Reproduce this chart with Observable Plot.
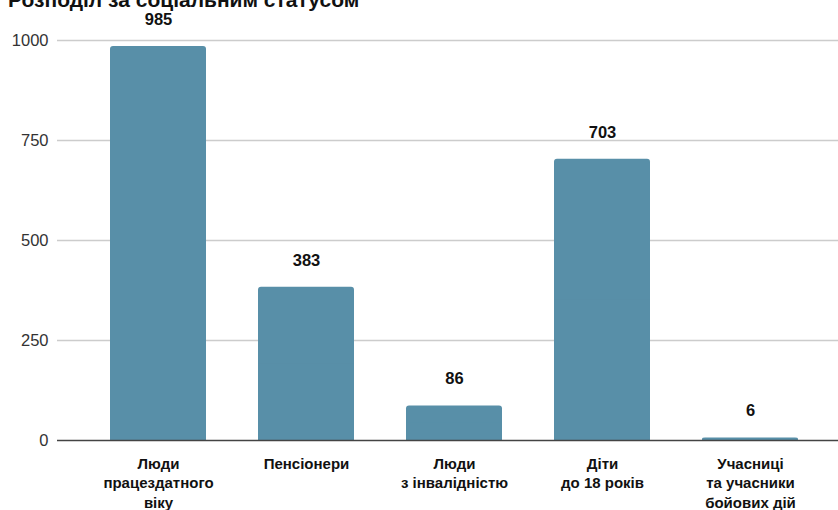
<!DOCTYPE html>
<html>
<head>
<meta charset="utf-8">
<script src="https://cdn.jsdelivr.net/npm/d3@7"></script>
<script src="https://cdn.jsdelivr.net/npm/@observablehq/plot@0.6"></script>
<style>
  html, body { margin: 0; padding: 0; background: #fff; overflow: hidden; }
  #wrap { position: relative; width: 838px; height: 510px; }
  #title { position: absolute; left: 8px; top: -12px; font: bold 21px "Liberation Sans", Arial, sans-serif; color: #111; white-space: nowrap; }
</style>
</head>
<body>
<div id="wrap">
  <div id="chart"></div>
  <div id="title">Розподіл за соціальним статусом</div>
</div>
<script>
const categories = ["Люди\nпрацездатного\nвіку", "Пенсіонери", "Люди\nз інвалідністю", "Діти\nдо 18 років", "Учасниці\nта учасники\nбойових дій"];
const values = [985, 383, 86, 703, 6];
const yTicks = [0, 250, 500, 750, 1000];

const data = categories.map((c, i) => ({cat: c, value: values[i]}));
const color = "#588fa8";
const font = "'Liberation Sans', Arial, sans-serif";

const chart = Plot.plot({
  width: 838,
  height: 510,
  marginLeft: 57,
  marginRight: 0,
  marginTop: 40,
  marginBottom: 70,
  style: {fontFamily: font, background: "#fff", overflow: "visible"},
  x: {domain: categories, range: [84, 824], paddingInner: 0.351, paddingOuter: 0.1755, label: null},
  y: {domain: [0, 1000], label: null, ticks: yTicks},
  marks: [
    Plot.ruleY(yTicks.filter(d => d > 0), {stroke: "#cccccc", strokeWidth: 1.3}),
    Plot.axisY({ticks: yTicks, tickFormat: d => String(d), tickSize: 0, tickPadding: 9, fontSize: 16.5, fill: "#333", label: null}),
    Plot.axisX({tickSize: 0, tickPadding: 14, fontSize: 15, fontWeight: "bold", fill: "#111", lineHeight: 1.32, textAnchor: "middle", label: null}),
    Plot.barY(data, {x: "cat", y: "value", fill: color, rx: 3}),
    Plot.barY(data, {x: "cat", y1: 0, y2: d => d.value / 2, fill: color}),
    Plot.ruleY([0], {stroke: "#444", strokeWidth: 1.3}),
    Plot.text(data, {x: "cat", y: "value", text: d => String(d.value), dy: -27, fontSize: 16.5, fontWeight: "bold", fill: "#111"})
  ]
});
document.getElementById("chart").appendChild(chart);
</script>
</body>
</html>
